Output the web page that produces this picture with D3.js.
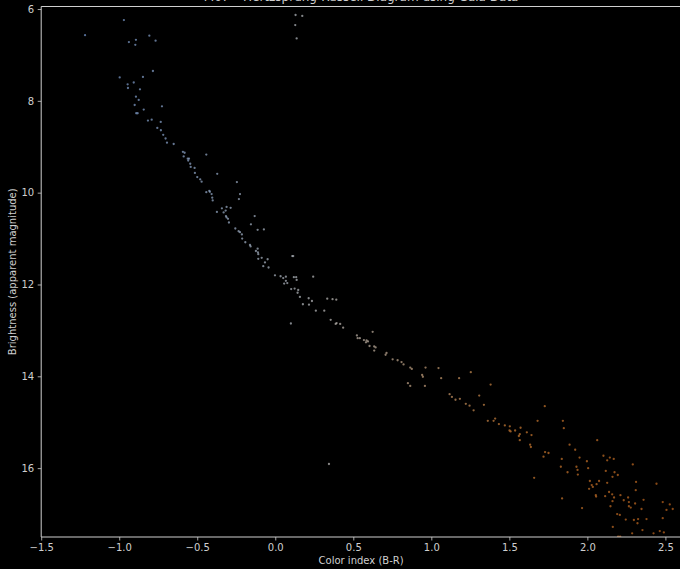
<!DOCTYPE html>
<html>
<head>
<meta charset="utf-8">
<script src="https://cdn.jsdelivr.net/npm/d3@7"></script>
<style>
  html, body { margin: 0; padding: 0; background: #000; }
  svg { display: block; }
</style>
</head>
<body>
<svg id="chart" width="680" height="569"></svg>
<script>
// ---- data ----
const colorIndex = [
  -0.970,-1.219,-0.807,-0.767,-0.893,-0.938,-0.897,-0.784,-0.997,-0.848,-0.907,-0.946,-0.944,-0.867,-0.893,-0.875,-0.901,-0.726,-0.843,-0.891,-0.882,-0.816,-0.792,-0.734,-0.756,-0.733,-0.718,-0.703,-0.694,-0.651,-0.592,-0.581,-0.442,-0.587,-0.561,-0.553,
  0.130,0.173,0.128,0.137,
  -0.558,-0.545,-0.542,-0.517,-0.515,-0.372,-0.500,-0.481,-0.472,-0.246,-0.442,-0.423,-0.419,-0.408,-0.226,-0.404,-0.233,-0.401,-0.312,-0.342,-0.286,-0.374,-0.331,-0.318,-0.316,-0.312,-0.303,-0.132,-0.297,-0.156,-0.113,-0.073,-0.256,-0.235,-0.226,-0.214,-0.212,-0.192,-0.162,-0.158,-0.113,-0.124,-0.111,-0.109,-0.109,-0.087,-0.049,-0.066,-0.077,-0.043,0.109,0.115,-0.002,0.034,0.051,0.068,0.119,0.134,0.137,0.243,0.068,0.057,0.077,0.102,0.124,0.147,0.143,0.158,0.214,0.333,0.367,0.391,
  0.235,0.177,0.216,0.260,0.314,0.100,0.355,0.393,0.387,0.416,0.435,0.624,0.523,0.528,0.542,0.568,0.585,0.594,0.581,0.604,0.634,0.643,0.634,0.713,0.707,0.752,0.784,0.809,0.822,0.865,0.875,0.963,1.046,1.253,0.941,0.946,1.063,1.178,0.850,0.865,0.959,1.117,1.132,1.155,1.183,1.221,1.245,1.271,1.307,0.344,
  1.380,1.337,1.362,1.399,1.409,1.433,1.471,1.503,1.501,1.508,1.537,1.572,1.567,1.561,1.612,1.642,1.567,1.633,1.638,1.681,1.727,1.843,1.849,1.886,1.922,1.950,1.997,2.063,1.729,1.751,1.719,1.836,1.830,1.873,1.930,1.937,1.939,2.005,1.659,2.016,2.028,2.059,2.075,2.035,2.011,2.054,2.056,1.838,1.966,
  2.103,2.144,2.127,2.169,2.118,2.174,2.195,2.161,2.291,2.127,2.114,2.139,2.159,2.171,2.161,2.212,2.233,2.261,2.266,2.278,2.266,2.306,2.312,2.310,2.360,2.347,2.443,2.483,2.528,2.507,2.547,2.148,2.191,2.208,2.246,2.325,2.321,2.298,2.379,2.483,2.163,2.287,2.353,2.424,2.464,2.490,2.197,2.210
];
const magnitude = [
  6.24,6.57,6.58,6.69,6.67,6.72,6.78,7.35,7.49,7.48,7.60,7.64,7.72,7.75,7.91,7.98,8.09,8.12,8.19,8.27,8.27,8.43,8.41,8.46,8.59,8.64,8.74,8.82,8.91,8.94,9.11,9.13,9.17,9.21,9.26,9.26,
  6.13,6.15,6.35,6.64,
  9.30,9.37,9.44,9.46,9.57,9.59,9.66,9.71,9.76,9.77,9.99,9.96,9.98,10.03,10.03,10.11,10.14,10.17,10.31,10.34,10.33,10.42,10.43,10.39,10.51,10.54,10.57,10.51,10.65,10.69,10.81,10.80,10.78,10.84,10.86,10.91,11.00,11.08,11.14,11.17,11.22,11.27,11.30,11.34,11.44,11.42,11.45,11.52,11.60,11.63,11.38,11.38,11.80,11.82,11.86,11.83,11.84,11.84,11.90,11.83,11.92,11.98,11.97,12.10,12.09,12.12,12.18,12.27,12.30,12.31,12.32,12.33,
  12.36,12.43,12.44,12.57,12.57,12.85,12.77,12.84,12.86,12.86,12.94,13.03,13.11,13.17,13.17,13.21,13.22,13.24,13.26,13.34,13.35,13.37,13.44,13.49,13.53,13.63,13.65,13.69,13.74,13.81,13.84,13.81,13.82,13.91,13.97,14.01,14.04,14.04,14.15,14.21,14.21,14.39,14.45,14.51,14.49,14.60,14.64,14.74,14.42,15.91,
  14.18,14.62,14.97,14.97,14.92,15.04,15.07,15.09,15.18,15.20,15.18,15.12,15.26,15.30,15.22,15.28,15.39,15.49,15.54,14.97,14.65,14.97,15.13,15.49,15.60,15.77,15.85,15.39,15.65,15.67,15.75,15.80,15.97,16.09,15.97,16.04,16.14,16.00,16.21,16.28,16.37,16.35,16.28,16.41,16.45,16.59,16.62,16.66,16.87,
  15.73,15.77,15.83,15.80,16.06,16.09,16.15,16.19,15.92,16.32,16.61,16.52,16.57,16.64,16.72,16.59,16.70,16.64,16.74,16.86,16.83,16.77,16.30,16.48,16.69,16.89,16.34,16.74,16.79,16.91,16.89,16.83,17.00,17.02,17.12,17.11,17.20,17.13,17.11,17.09,17.28,17.42,17.35,17.42,17.37,17.40,17.49,17.49
];
const xTicks = [-1.5, -1.0, -0.5, 0.0, 0.5, 1.0, 1.5, 2.0, 2.5];
const yTicks = [6, 8, 10, 12, 14, 16];
const titleText = "M67 \u2013 Hertzsprung-Russell Diagram using Gaia Data";
const xLabel = "Color index (B-R)";
const yLabel = "Brightness (apparent magnitude)";

// ---- layout ----
const padL = 41.2, padR = 681, padT = 6.5, padB = 537;
const svg = d3.select("#chart");
svg.append("rect").attr("width", 680).attr("height", 569).attr("fill", "#000");

const x = d3.scaleLinear().domain([-1.5, 2.6]).range([padL, padR]);
const y = d3.scaleLinear().domain([5.945, 17.5]).range([padT, padB]);

const col = d3.scaleLinear()
  .domain([-1.2, -0.4, 0.3, 0.9, 1.5, 2.5])
  .range(["#6f8fc4", "#8fa3bf", "#b4b4b4", "#b89a7c", "#c27630", "#b5601c"])
  .clamp(true);

const pts = colorIndex.map((c, i) => ({c, m: magnitude[i]}));

svg.append("clipPath").attr("id", "clip")
  .append("rect").attr("x", padL).attr("y", padT).attr("width", padR - padL).attr("height", padB - padT);

svg.append("g").attr("clip-path", "url(#clip)")
  .selectAll("circle").data(pts).join("circle")
  .attr("cx", d => x(d.c)).attr("cy", d => y(d.m))
  .attr("r", 1.15)
  .attr("fill", d => col(d.c))
  .attr("opacity", 0.75);

const axisColor = "#cfcfcf";
const fmt = v => (v < 0 ? "\u2212" : "") + Math.abs(v).toFixed(1);

const gx = svg.append("g").attr("transform", `translate(0,${padB})`)
  .call(d3.axisBottom(x).tickValues(xTicks).tickFormat(fmt).tickSize(3.5).tickPadding(3.5));
const gy = svg.append("g").attr("transform", `translate(${padL},0)`)
  .call(d3.axisLeft(y).tickValues(yTicks).tickFormat(d3.format("d")).tickSize(3.5).tickPadding(3.5));

[gx, gy].forEach(g => {
  g.select(".domain").remove();
  g.selectAll("line").attr("stroke", axisColor).attr("stroke-width", 0.8);
  g.selectAll("text").attr("fill", axisColor)
    .style("font-family", "DejaVu Sans, sans-serif").style("font-size", "10px");
});

// spines (left, bottom, top)
svg.append("path")
  .attr("d", `M${padR},${padT}H${padL}V${padB}H${padR}`)
  .attr("fill", "none").attr("stroke", axisColor).attr("stroke-width", 1);

svg.append("text").attr("x", (padL + padR) / 2).attr("y", 564)
  .attr("text-anchor", "middle").attr("fill", axisColor)
  .style("font-family", "DejaVu Sans, sans-serif").style("font-size", "10px")
  .text(xLabel);

svg.append("text").attr("transform", `translate(16,${(padT + padB) / 2}) rotate(-90)`)
  .attr("text-anchor", "middle").attr("fill", axisColor)
  .style("font-family", "DejaVu Sans, sans-serif").style("font-size", "10px")
  .text(yLabel);

svg.append("text").attr("x", (padL + padR) / 2).attr("y", 1)
  .attr("text-anchor", "middle").attr("fill", axisColor)
  .style("font-family", "DejaVu Sans, sans-serif").style("font-size", "12px")
  .text(titleText);
</script>
</body>
</html>
